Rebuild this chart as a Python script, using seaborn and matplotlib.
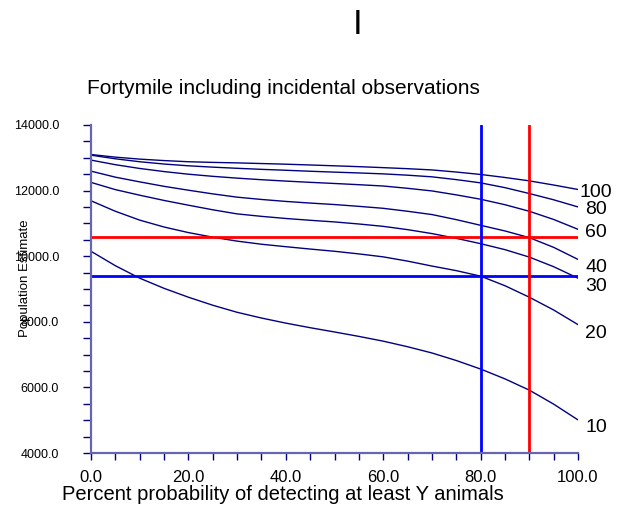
import matplotlib
matplotlib.use("Agg")
import matplotlib.pyplot as plt
import seaborn as sns
import pandas as pd
from matplotlib.ticker import MultipleLocator, FormatStrFormatter

# ---------------- data ----------------
x_pct = [0, 5, 10, 15, 20, 25, 30, 35, 40, 45, 50, 55, 60, 65, 70, 75, 80, 85, 90, 95, 100]
y_100 = [13100, 13020, 12960, 12915, 12880, 12860, 12845, 12825, 12805, 12781, 12756, 12730, 12700, 12668, 12630, 12566, 12492, 12400, 12297, 12170, 12034]
y_80 = [13080, 12970, 12880, 12810, 12756, 12715, 12680, 12648, 12620, 12590, 12563, 12538, 12510, 12470, 12420, 12335, 12236, 12090, 11911, 11720, 11502]
y_60 = [12930, 12790, 12675, 12580, 12500, 12435, 12380, 12332, 12290, 12252, 12217, 12180, 12140, 12070, 11990, 11870, 11737, 11570, 11370, 11120, 10820]
y_40 = [12593, 12410, 12266, 12130, 12012, 11900, 11800, 11730, 11670, 11620, 11575, 11520, 11460, 11370, 11270, 11115, 10942, 10770, 10566, 10270, 9902]
y_30 = [12250, 12030, 11860, 11700, 11555, 11415, 11290, 11215, 11150, 11095, 11045, 10982, 10910, 10810, 10690, 10545, 10382, 10200, 9973, 9680, 9330]
y_20 = [11690, 11370, 11100, 10890, 10720, 10580, 10460, 10365, 10290, 10218, 10150, 10070, 9980, 9850, 9700, 9560, 9392, 9100, 8750, 8360, 7914]
y_10 = [10150, 9710, 9330, 9020, 8750, 8505, 8290, 8115, 7960, 7820, 7690, 7555, 7410, 7240, 7050, 6820, 6560, 6260, 5917, 5490, 5009]
series_names = ["100", "80", "60", "40", "30", "20", "10"]
series_vals = [y_100, y_80, y_60, y_40, y_30, y_20, y_10]
label_y = [11936, 11430, 10717, 9649, 9091, 7650, 4771]

ref_h_red = 10600
ref_h_blue = 9400
ref_v_red = 90
ref_v_blue = 80

title = "Fortymile including incidental observations"
xlabel = "Percent probability of detecting at least Y animals"
ylabel = "Population Estimate"

# ---------------- build frame ----------------
rows = []
for name, vals in zip(series_names, series_vals):
    for xv, yv in zip(x_pct, vals):
        rows.append({"x": xv, "y": yv, "series": name})
df = pd.DataFrame(rows)

sns.set_style("white")
plt.rcParams["font.family"] = ["Liberation Sans", "DejaVu Sans"]
plt.rcParams["text.color"] = "black"
plt.rcParams["xtick.labelcolor"] = "black"
plt.rcParams["ytick.labelcolor"] = "black"

W, H = 631, 514
fig = plt.figure(figsize=(W / 100, H / 100), dpi=100)
ax = fig.add_axes([91 / W, 1 - 453 / H, (578 - 91) / W, (453 - 125) / H])

navy = "#000080"
sns.lineplot(data=df, x="x", y="y", hue="series", hue_order=series_names,
             palette=[navy] * len(series_names), linewidth=1.0, legend=False,
             ax=ax, sort=True)

ax.plot([0, 100], [ref_h_red, ref_h_red], color="#ff0000", lw=2.0)
ax.plot([0, 100], [ref_h_blue, ref_h_blue], color="#0000ff", lw=2.0)
ax.plot([ref_v_red, ref_v_red], [4000, 14000], color="#ff0000", lw=2.0)
ax.plot([ref_v_blue, ref_v_blue], [4000, 14000], color="#0000ff", lw=2.0)

for name, ly in zip(series_names, label_y):
    ax.text(103.7, ly, name, fontsize=14, ha="center", va="center",
            color="black", clip_on=False)

ax.set_xlim(0, 100)
ax.set_ylim(4000, 14000)
ax.set_xlabel("")
ax.set_ylabel("")

for s in ["top", "right"]:
    ax.spines[s].set_visible(False)
for s in ["left", "bottom"]:
    ax.spines[s].set_color("#6666b0")
    ax.spines[s].set_linewidth(1.6)

ax.xaxis.set_major_locator(MultipleLocator(20))
ax.xaxis.set_minor_locator(MultipleLocator(5))
ax.yaxis.set_major_locator(MultipleLocator(2000))
ax.yaxis.set_minor_locator(MultipleLocator(500))
ax.xaxis.set_major_formatter(FormatStrFormatter("%.1f"))
ax.yaxis.set_major_formatter(FormatStrFormatter("%.1f"))

ax.tick_params(axis="both", which="both", direction="out", color=navy, width=1.0,
               bottom=True, left=True)
ax.tick_params(axis="y", which="both", length=6)
ax.tick_params(axis="x", which="both", length=5)
ax.tick_params(axis="y", which="major", pad=17, labelsize=9, labelcolor="black")
ax.tick_params(axis="x", which="major", pad=7, labelsize=12, labelcolor="black")

fig.text(283 / W, 1 - 89 / H, title, fontsize=15, ha="center", va="center")
fig.text(283 / W, 1 - 495 / H, xlabel, fontsize=14.5, ha="center", va="center")
fig.text(25 / W, 1 - 278 / H, ylabel, fontsize=9.5, ha="center", va="center",
         rotation=90)
fig.text(358 / W, 1 - 25 / H, "I", fontsize=25, ha="center", va="center")

fig.savefig("out.png", dpi=100, facecolor="white")
